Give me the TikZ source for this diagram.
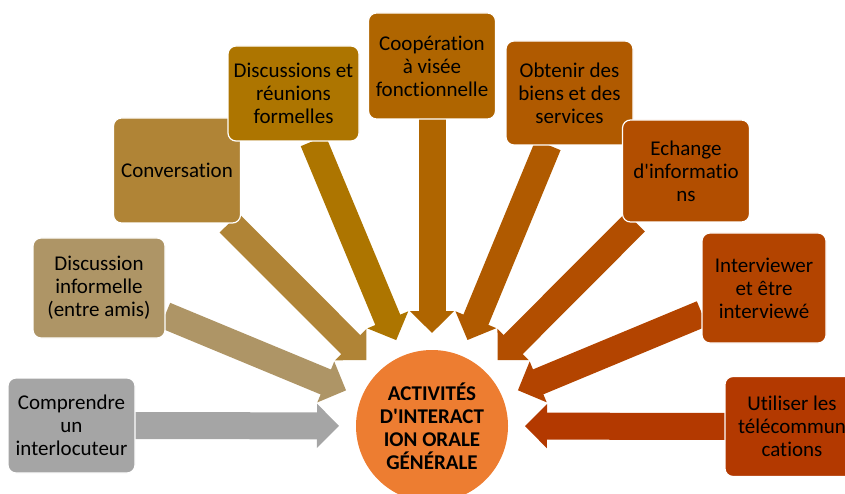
\documentclass[tikz,border=0pt]{standalone}
\usepackage{fontspec}
\setmainfont{Carlito}[RawFeature={-liga;-clig;-dlig;-calt}]
\usetikzlibrary{arrows.meta,backgrounds}

\definecolor{teinteA}{HTML}{A5A5A5}
\definecolor{teinteB}{HTML}{AE9566}
\definecolor{teinteC}{HTML}{B08436}
\definecolor{teinteD}{HTML}{AD7500}
\definecolor{teinteE}{HTML}{AF6500}
\definecolor{teinteF}{HTML}{B05A00}
\definecolor{teinteG}{HTML}{B24E00}
\definecolor{teinteH}{HTML}{B34400}
\definecolor{teinteI}{HTML}{B33900}
\definecolor{centre}{HTML}{ED7D31}

\begin{document}
\begin{tikzpicture}[x=1pt,y=-1pt]
\tikzset{boite/.style={draw=white, line width=1.2pt, rounded corners=8pt, minimum width=127pt, minimum height=102pt, align=center, inner sep=2pt, outer sep=0pt, font=\fontsize{21}{23}\selectfont},
fleche/.style={line width=27pt, -{Triangle[length=22pt,width=43pt]}, shorten >=17pt}}
\useasboundingbox (0,0) rectangle (845,494);
\clip (0,0) rectangle (845,494);
\node[circle, fill=centre, minimum size=152pt, inner sep=0pt, outer sep=0pt, align=center, font=\fontsize{21}{23}\selectfont\bfseries] (hub) at (432,426) {ACTIVITÉS\\D\textquotesingle INTERACT\\ION ORALE\\GÉNÉRALE};
\node[boite, fill=teinteA, minimum height=95pt] (b1) at (71.5,425.5) {Comprendre\\un\\interlocuteur};
\node[boite, fill=teinteB, minimum width=132pt, minimum height=100pt] (b2) at (99,288) {Discussion\\informelle\\(entre amis)};
\node[boite, fill=teinteC, minimum height=105pt] (b3) at (177,170.5) {Conversation};
\node[boite, fill=teinteD, minimum width=131pt, minimum height=95pt] (b4) at (293.5,93.5) {Discussions et\\réunions\\formelles};
\node[boite, fill=teinteE, minimum height=106pt] (b5) at (432,66) {Coopération\\à visée\\fonctionnelle};
\node[boite, fill=teinteF, minimum height=104pt] (b6) at (569.5,93) {Obtenir des\\biens et des\\services};
\node[boite, fill=teinteG] (b7) at (686,171) {Echange\\d\textquotesingle informatio\\ns};
\node[boite, fill=teinteH, minimum width=124pt, minimum height=110pt] (b8) at (764,288) {Interviewer\\et être\\interviewé};
\node[boite, fill=teinteI, minimum width=134pt, minimum height=100pt] (b9) at (792,426.5) {Utiliser les\\télécommun\\cations};
% fleches vers le centre
\begin{pgfonlayer}{background}
\draw[fleche, teinteA] (b1) -- (hub);
\draw[fleche, teinteB] (b2) -- (hub);
\draw[fleche, teinteC] (b3) -- (hub);
\draw[fleche, teinteD] (b4) -- (hub);
\draw[fleche, teinteE] (b5) -- (hub);
\draw[fleche, teinteF] (b6) -- (hub);
\draw[fleche, teinteG] (b7) -- (hub);
\draw[fleche, teinteH] (b8) -- (hub);
\draw[fleche, teinteI] (b9) -- (hub);
\end{pgfonlayer}
\end{tikzpicture}
\end{document}
